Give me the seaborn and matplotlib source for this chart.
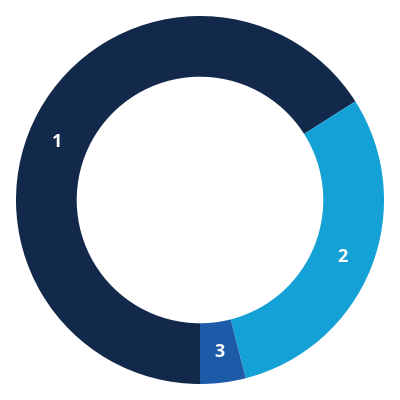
import numpy as np
import matplotlib
matplotlib.use("Agg")
import matplotlib.pyplot as plt
import seaborn as sns

# --- donnees ---
labels = ["1", "2", "3"]
values = [66, 30, 4]
colors = ["#13294B", "#14A1D6", "#1D5BA8"]

sns.set_theme(style="white")
plt.rcParams["font.family"] = ["Open Sans", "DejaVu Sans"]

fig = plt.figure(figsize=(4, 4), dpi=100)
ax = fig.add_axes([0, 0, 1, 1])

wedges, texts = ax.pie(
    values,
    labels=labels,
    colors=colors,
    startangle=270,
    counterclock=False,
    radius=1,
    labeldistance=0.835,
    wedgeprops=dict(width=0.33, linewidth=0),
    textprops=dict(color="white", fontsize=13, fontweight="bold",
                   ha="center", va="center"),
)

# le label 1 est un peu plus bas que le milieu de son segment
ang = np.deg2rad(158)
texts[0].set_position((0.835 * np.cos(ang), 0.835 * np.sin(ang)))
for t in texts:
    t.set_ha("center")
    t.set_va("center")

lim = 200 / 184
ax.set_xlim(-lim, lim)
ax.set_ylim(-lim, lim)
ax.set_aspect("equal")
ax.axis("off")

fig.savefig("out.png", dpi=100, facecolor="white")
